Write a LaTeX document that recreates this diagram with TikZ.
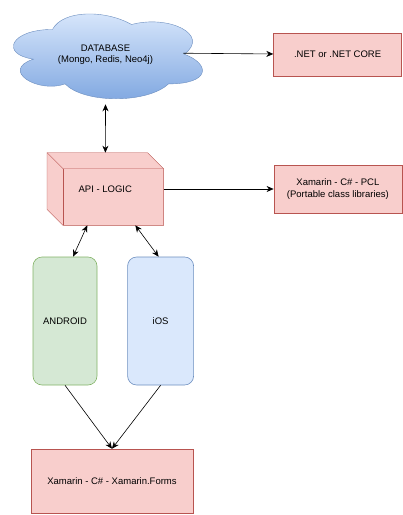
\documentclass[tikz,border=0pt]{standalone}
\usepackage{fontspec}
\setmainfont{Liberation Sans}
\usetikzlibrary{positioning, arrows.meta, backgrounds}

\definecolor{redfill}{HTML}{F8CECC}
\definecolor{redline}{HTML}{B85450}
\definecolor{greenfill}{HTML}{D5E8D4}
\definecolor{greenline}{HTML}{82B366}
\definecolor{bluefill}{HTML}{DAE8FC}
\definecolor{blueline}{HTML}{6C8EBF}
\definecolor{bluedark}{HTML}{7EA6E0}

\begin{document}
\begin{tikzpicture}[x=1pt, y=-1pt, >={Stealth[length=7pt, width=6pt]}, semithick, node distance=30pt,
    font=\fontsize{9.5}{11.5}\selectfont,
    box/.style={draw=redline, fill=redfill, align=center, minimum width=128pt, inner sep=0pt},
    phone/.style={rounded corners=9pt, minimum height=128pt, inner sep=0pt}]
    \useasboundingbox (0,0) rectangle (403,515);

    \node[minimum width=211pt, minimum height=99pt, align=center] (db) at (105.5,54.5) {DATABASE\\(Mongo, Redis, Neo4j)};
    \node[box, minimum height=43pt] (net) [right=62pt of db] {.NET or .NET CORE};
    \node[minimum width=116pt, minimum height=72pt, inner sep=0pt] (api) at (105.3,189) {API - LOGIC};
    \node[box, minimum height=48pt] (pcl) [right=110pt of api] {Xamarin - C\# - PCL\\(Portable class libraries)};
    \node[phone, draw=greenline, fill=greenfill, minimum width=64pt] (android) at (65,321) {ANDROID};
    \node[phone, draw=blueline, fill=bluefill, minimum width=66pt] (ios) [right=of android] {iOS};
    \node[box, minimum width=162pt, minimum height=64pt] (forms) at (112,481) {Xamarin - C\# - Xamarin.Forms};

    % cloud behind the database text
    \begin{scope}[on background layer, shift={(db.north west)}, x=211pt, y=-99pt]
        \draw[blueline, top color=bluefill, bottom color=bluedark]
            (0.25,0.25) .. controls (0.05,0.25) and (0,0.5) .. (0.16,0.55)
            .. controls (0,0.66) and (0.18,0.9) .. (0.31,0.8)
            .. controls (0.4,1) and (0.7,1) .. (0.8,0.8)
            .. controls (1,0.8) and (1,0.6) .. (0.875,0.5)
            .. controls (1,0.3) and (0.8,0.1) .. (0.625,0.2)
            .. controls (0.5,0.05) and (0.3,0.05) .. (0.25,0.25) -- cycle;
        \coordinate (dbr) at (0.87,0.49);
    \end{scope}

    % cube behind the api text
    \begin{scope}[on background layer]
        \draw[redline, fill=redfill] (api.north west) -- ([xshift=-16pt]api.north east) -- ([yshift=-16pt]api.north east)
            -- (api.south east) -- ([xshift=16pt]api.south west) -- ([yshift=16pt]api.south west) -- cycle;
        \draw[redline] (api.north west) -- ([xshift=16pt, yshift=-16pt]api.north west) -- ([yshift=-16pt]api.north east);
        \draw[redline] ([xshift=16pt, yshift=-16pt]api.north west) -- ([xshift=16pt]api.south west);
    \end{scope}

    \draw[->] (dbr) -- (net);
    \draw[<->] (db.south) -- (api);
    \draw[->] (api) -- (pcl);
    \draw[<->] ([xshift=-18pt]api.south) -- ([xshift=8pt]android.north);
    \draw[<->] ([xshift=30pt]api.south) -- ([xshift=-2pt]ios.north);
    \draw[->] (android.south) -- (forms.north);
    \draw[->] (ios.south) -- (forms.north);
\end{tikzpicture}
\end{document}
